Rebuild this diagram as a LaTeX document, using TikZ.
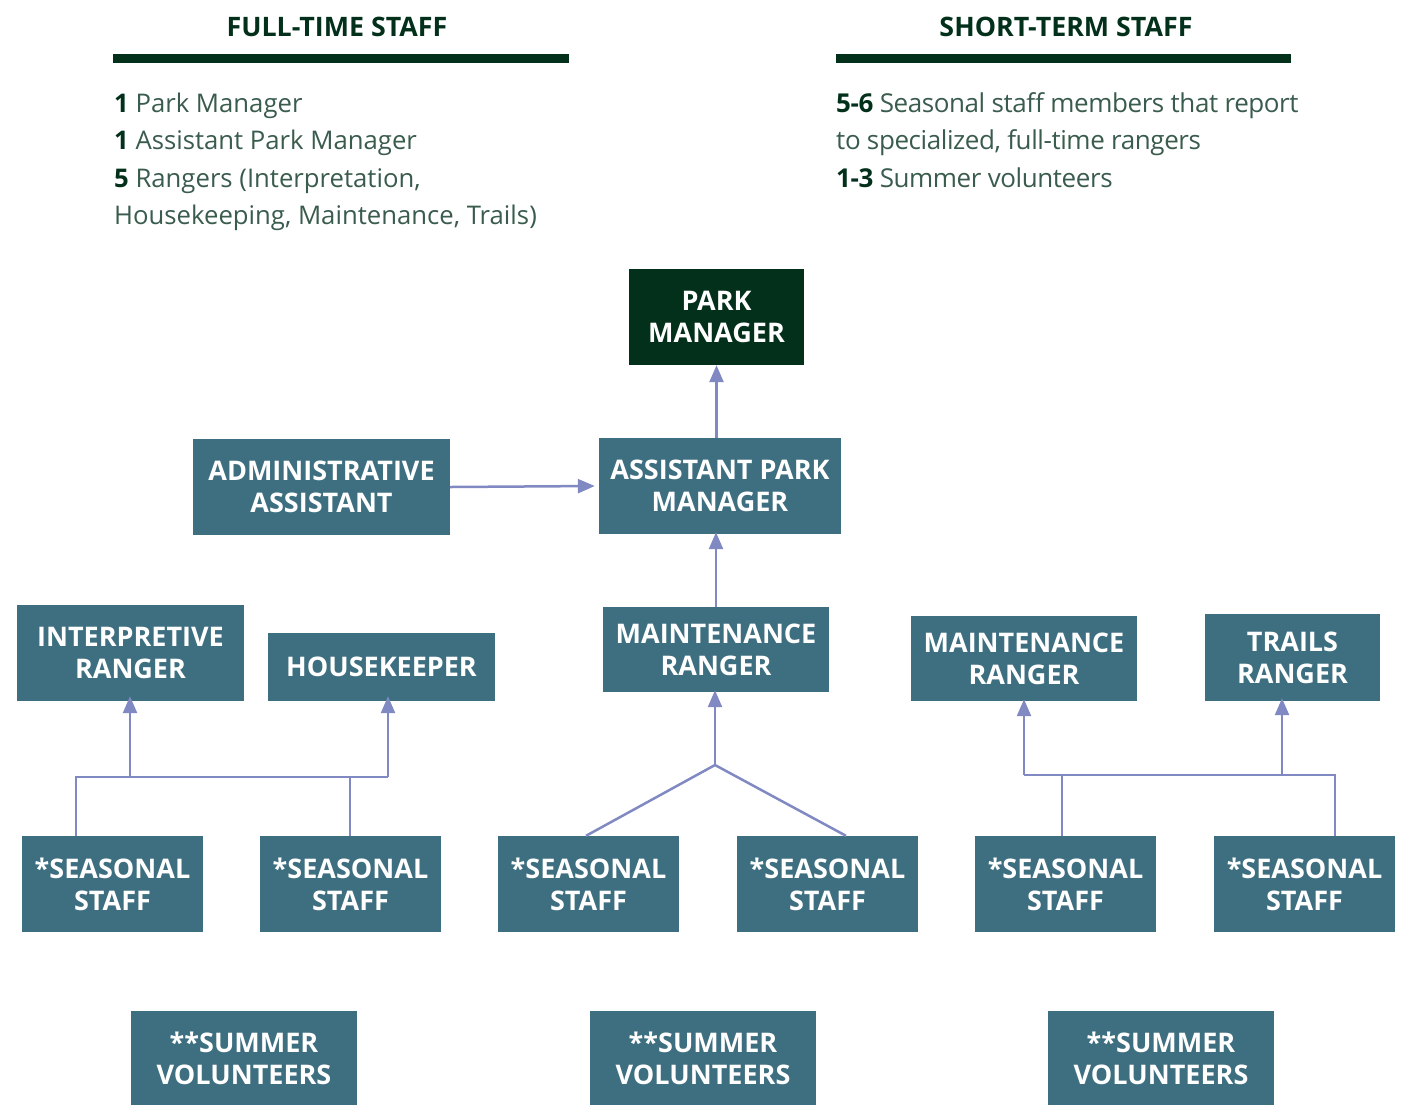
\documentclass[tikz,border=0pt]{standalone}
\usepackage{fontspec}
\setmainfont{Open Sans}
\usetikzlibrary{arrows.meta}
\definecolor{dkgreen}{HTML}{03301B}
\definecolor{bodytxt}{HTML}{3A5C4C}
\definecolor{teal}{HTML}{3E6F80}
\definecolor{arrowc}{HTML}{8189C2}
\tikzset{
  box/.style={fill=teal, text=white, font=\fontsize{27}{32}\selectfont\bfseries, align=center, inner sep=0pt},
  pmbox/.style={box, fill=dkgreen},
  conn/.style={draw=arrowc, line width=2.5pt},
  arr/.style={conn, -{Triangle[width=14pt,length=17pt]}},
  head/.style={font=\fontsize{26.8}{30}\selectfont\bfseries, text=dkgreen, inner sep=0pt},
  body/.style={font=\fontsize{25.7}{37}\selectfont, text=bodytxt, inner sep=0pt, anchor=base west},
  bodyr/.style={body, font=\fontsize{26}{37}\selectfont\addfontfeatures{LetterSpace=-1.6}},
}
\newcommand{\num}[1]{\textbf{\textcolor{dkgreen}{#1}}}
\begin{document}
\begin{tikzpicture}[x=1pt,y=-1pt]
\useasboundingbox (0,0) rectangle (1404,1104);
% headers
\node[head] (h1) at (337,27) {FULL-TIME STAFF};
\node[head] (h2) at (1066,27) {SHORT-TERM STAFF};
\fill[dkgreen] (113,54) rectangle (569,63);
\fill[dkgreen] (836,54) rectangle (1291,63);
% body text
\node[body] (l1) at (114,112) {\num{1} Park Manager};
\node[body] (l2) at (114,149) {\num{1} Assistant Park Manager};
\node[body] (l3) at (114,187) {\num{5} Rangers (Interpretation,};
\node[body] (l4) at (114,224) {Housekeeping, Maintenance, Trails)};
\node[bodyr] (r1) at (836,112) {\num{5-6} Seasonal staff members that report};
\node[bodyr] (r2) at (836,149) {to specialized, full-time rangers};
\node[bodyr] (r3) at (836,187) {\num{1-3} Summer volunteers};
% boxes
\node[pmbox, minimum width=175pt, minimum height=96pt] (pm) at (716.5,317) {PARK\\MANAGER};
\node[box, minimum width=242pt, minimum height=96pt] (apm) at (720,486) {ASSISTANT PARK\\MANAGER};
\node[box, minimum width=257pt, minimum height=96pt] (adm) at (321.5,487) {ADMINISTRATIVE\\ASSISTANT};
\node[box, minimum width=227pt, minimum height=96pt] (ir) at (130.5,653) {INTERPRETIVE\\RANGER};
\node[box, minimum width=227pt, minimum height=68pt] (hk) at (381.5,667) {HOUSEKEEPER};
\node[box, minimum width=226pt, minimum height=85pt] (mr) at (716,649.5) {MAINTENANCE\\RANGER};
\node[box, minimum width=226pt, minimum height=85pt] (mr2) at (1024,658.5) {MAINTENANCE\\RANGER};
\node[box, minimum width=175pt, minimum height=87pt] (tr) at (1292.5,657.5) {TRAILS\\RANGER};
\node[box, minimum width=181pt, minimum height=96pt] (s1) at (112.5,884) {*SEASONAL\\STAFF};
\node[box, minimum width=181pt, minimum height=96pt] (s2) at (350.5,884) {*SEASONAL\\STAFF};
\node[box, minimum width=181pt, minimum height=96pt] (s3) at (588.5,884) {*SEASONAL\\STAFF};
\node[box, minimum width=181pt, minimum height=96pt] (s4) at (827.5,884) {*SEASONAL\\STAFF};
\node[box, minimum width=181pt, minimum height=96pt] (s5) at (1065.5,884) {*SEASONAL\\STAFF};
\node[box, minimum width=181pt, minimum height=96pt] (s6) at (1304.5,884) {*SEASONAL\\STAFF};
\node[box, minimum width=226pt, minimum height=94pt] (v1) at (244,1058) {**SUMMER\\VOLUNTEERS};
\node[box, minimum width=226pt, minimum height=94pt] (v2) at (703,1058) {**SUMMER\\VOLUNTEERS};
\node[box, minimum width=226pt, minimum height=94pt] (v3) at (1161,1058) {**SUMMER\\VOLUNTEERS};
% connectors
\draw[arr] (apm.north -| pm.south) -- (pm.south);
\draw[arr] (adm.east) -- ([xshift=-4pt]apm.west);
\draw[arr] (mr.north) -- ([yshift=2pt]apm.south -| mr.north);
% centre group
\coordinate (jc) at (715,765);
\draw[arr] (jc) -- ([yshift=2pt]mr.south -| jc);
\draw[conn] (s3.north -| 586,0) -- (jc) -- (s4.north -| 846,0);
% left group
\coordinate (jl1) at (76,777);
\coordinate (jl2) at (388,777);
\draw[conn] (s1.north -| jl1) -- (jl1) -- (jl2);
\draw[conn] (s2.north -| 350,0) -- (350,777);
\draw[arr] (130,777) -- ([yshift=5pt]ir.south -| 130,0);
\draw[arr] (jl2) -- ([yshift=5pt]hk.south -| jl2);
% right group
\coordinate (jr1) at (1024,775);
\coordinate (jr2) at (1335,775);
\draw[conn] (s6.north -| jr2) -- (jr2) -- (jr1);
\draw[conn] (s5.north -| 1062,0) -- (1062,775);
\draw[arr] (jr1) -- ([yshift=2pt]mr2.south -| jr1);
\draw[arr] (1282,775) -- ([yshift=3pt]tr.south -| 1282,0);
\end{tikzpicture}
\end{document}
